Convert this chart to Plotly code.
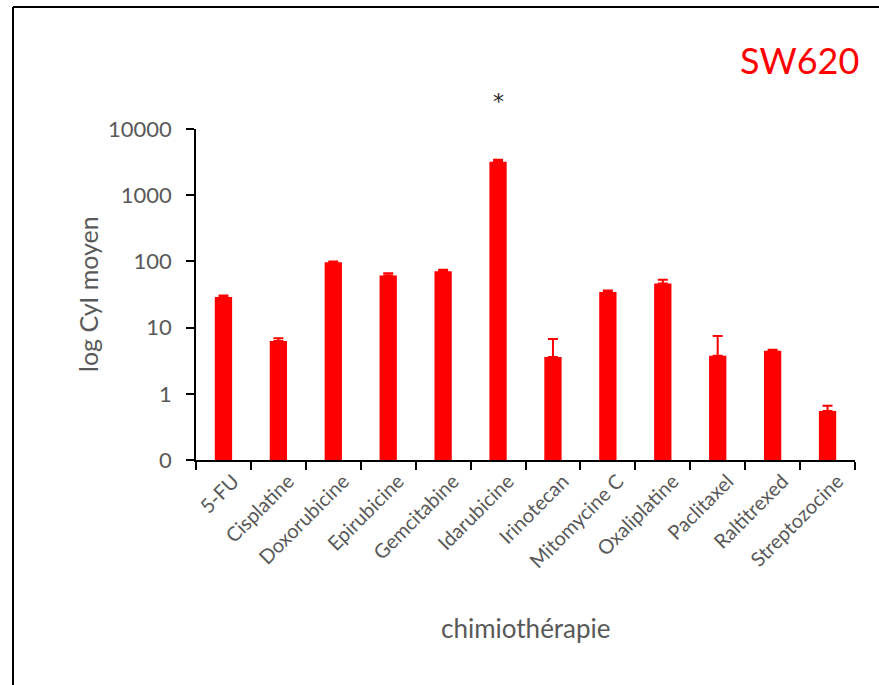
import plotly.graph_objects as go

categories = ["5-FU", "Cisplatine", "Doxorubicine", "Epirubicine", "Gemcitabine",
              "Idarubicine", "Irinotecan", "Mitomycine C", "Oxaliplatine",
              "Paclitaxel", "Raltitrexed", "Streptozocine"]
mean_cyi = [28.9, 6.3, 97, 61, 71, 3200, 3.6, 34.4, 46.4, 3.75, 4.46, 0.55]
err_up = [1.6, 0.6, 3, 5.5, 3.5, 230, 3.1, 1.9, 6.3, 3.7, 0.16, 0.11]
ytick_vals = [0.1, 1, 10, 100, 1000, 10000]
ytick_text = ["0", "1", "10", "100", "1000", "10000"]

FONT = "Lato"
GRAY = "#595959"

fig = go.Figure()
fig.add_trace(go.Bar(
    x=categories, y=mean_cyi,
    marker=dict(color="#FF0000", line=dict(width=0)),
    error_y=dict(type="data", array=err_up, arrayminus=[0]*len(err_up),
                 symmetric=False, color="#FF0000", thickness=2, width=5),
))

L, R, T, B = 196, 24, 129, 225
W, H = 879, 685
pw, ph = W - L - R, H - T - B

def px2paper(x, y):
    return (x - L) / pw, (H - B - y) / ph

annots = []
def add_text(text, px, py, size, color, angle=0, xref="paper", xval=None, family=FONT):
    xt, yt = px2paper(px, py)
    annots.append(dict(text=text, x=xt if xval is None else xval, y=yt,
                       xref=xref, yref="paper", xanchor="center", yanchor="middle",
                       textangle=angle, showarrow=False,
                       font=dict(family=family, size=size, color=color)))

add_text("chimiothérapie", 526, 628, 26, GRAY)
add_text("log CyI moyen", 88, 294, 25, GRAY, angle=-90)
add_text("SW620", 799, 60, 36, "#FF0000")
add_text("*", 497, 102, 22, "#262626", xref="x", xval="Idarubicine", family="DejaVu Sans")

x0, y0 = px2paper(13, 7)
x1, y1 = px2paper(880, 686)
shapes = [
    dict(type="line", xref="paper", yref="paper", x0=x0, x1=x0, y0=y0, y1=y1,
         line=dict(color="black", width=2)),
    dict(type="line", xref="paper", yref="paper", x0=x0, x1=x1, y0=y0, y1=y0,
         line=dict(color="black", width=2)),
]

fig.update_layout(
    width=W, height=H,
    margin=dict(l=L, r=R, t=T, b=B, autoexpand=False),
    paper_bgcolor="white", plot_bgcolor="white",
    showlegend=False, bargap=0.685,
    annotations=annots, shapes=shapes,
    font=dict(family=FONT, color=GRAY),
)
fig.update_xaxes(
    type="category", tickson="boundaries", ticks="outside", ticklen=8,
    tickcolor="black", tickwidth=1.5, showline=True, linecolor="black", linewidth=1.5,
    tickangle=-45, tickfont=dict(family=FONT, size=20, color=GRAY),
    ticklabelshift=10,
    showgrid=False, automargin=False,
)
fig.update_yaxes(
    type="log", range=[-1, 4], tickvals=ytick_vals, ticktext=ytick_text,
    ticks="outside", ticklen=8, tickcolor="black", tickwidth=1.5,
    showline=True, linecolor="black", linewidth=1.5, showgrid=False, zeroline=False,
    tickfont=dict(family=FONT, size=22, color=GRAY), ticklabelstandoff=10,
    automargin=False,
)

fig.write_html("out.html", config={"displayModeBar": False},
               post_script="document.body.style.margin='0';document.body.style.overflow='hidden';")
